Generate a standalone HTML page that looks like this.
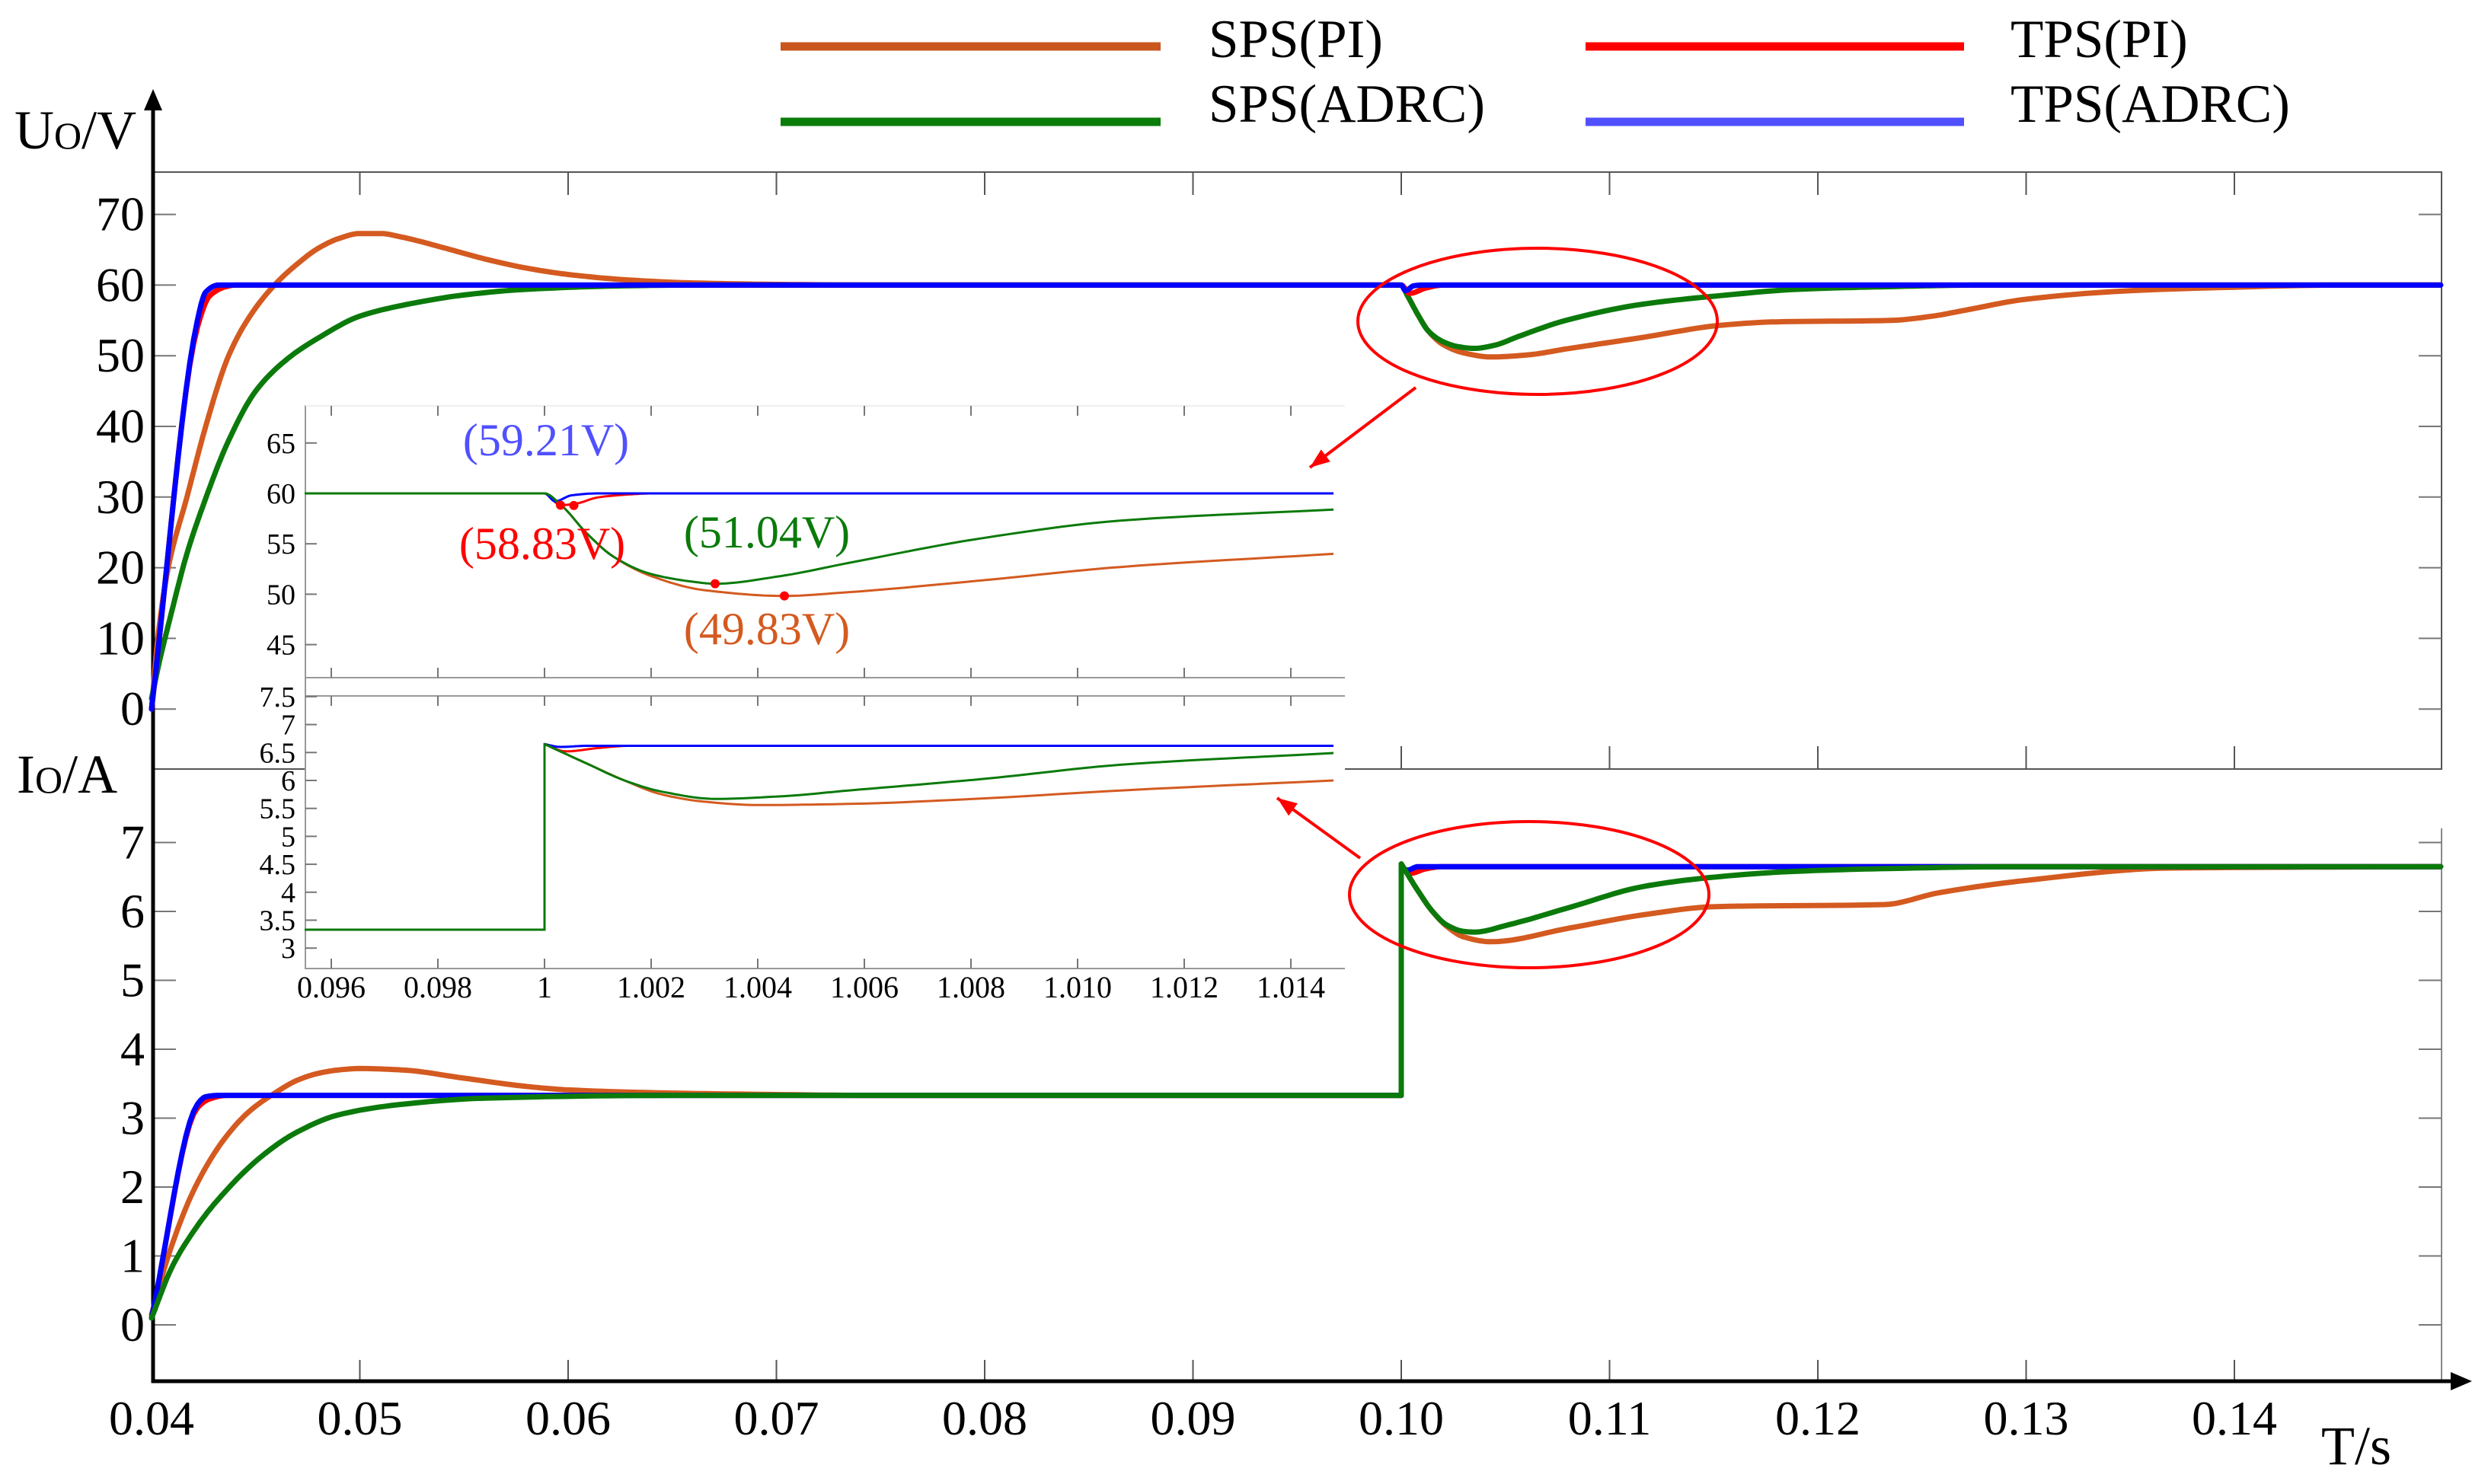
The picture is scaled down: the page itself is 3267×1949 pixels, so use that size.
<!DOCTYPE html>
<html><head><meta charset="utf-8"><style>
html,body{margin:0;padding:0;background:#fff}
svg{display:block}
text{font-family:"Liberation Serif",serif}
</style></head><body>
<svg id="chart" width="3267" height="1949" viewBox="0 0 3267 1949" xmlns="http://www.w3.org/2000/svg">
<rect width="3267" height="1949" fill="#fff"/>
<g id="frame"></g>
<g id="main"></g>
<g id="inset"></g>
<g id="anno"></g>
<g id="legend">
 <line x1="1025" y1="61" x2="1524" y2="61" stroke="#c8561e" stroke-width="11"/>
 <text x="1587" y="75" font-size="71">SPS(PI)</text>
 <line x1="1025" y1="160" x2="1524" y2="160" stroke="#0a7d0a" stroke-width="11"/>
 <text x="1587" y="160" font-size="71">SPS(ADRC)</text>
 <line x1="2082" y1="61" x2="2579" y2="61" stroke="#ff0000" stroke-width="11"/>
 <text x="2640" y="75" font-size="71">TPS(PI)</text>
 <line x1="2082" y1="160" x2="2579" y2="160" stroke="#5050ff" stroke-width="11"/>
 <text x="2640" y="160" font-size="71">TPS(ADRC)</text>
</g>
<text x="19" y="195" font-size="72">U<tspan font-size="50">O</tspan>/V</text>
<text x="22" y="1041" font-size="72">I<tspan font-size="50">O</tspan>/A</text>
<text x="3048" y="1923" font-size="72">T/s</text>
</svg>
<script>
// ---- main chart data ----
const xTicks = [0.04,0.05,0.06,0.07,0.08,0.09,0.10,0.11,0.12,0.13,0.14];
const xTickLabels = ["0.04","0.05","0.06","0.07","0.08","0.09","0.10","0.11","0.12","0.13","0.14"];
const vTicks = [0,10,20,30,40,50,60,70];
const iTicks = [0,1,2,3,4,5,6,7];
// voltage series
const tBlueV = [0.04,0.0422,0.0426,0.0432,0.1,0.1002,0.1006,0.101,0.1499];
const vBlue  = [0,55,59,60,60,59.21,59.9,60,60];
const tRedV  = [0.04,0.0422,0.0428,0.0436,0.044,0.1,0.1004,0.1012,0.102,0.1499];
const vRed   = [0,54,58.5,59.8,60,60,58.83,59.6,60,60];
const tOrgV  = [0.04,0.0403,0.0408,0.0417,0.0426,0.0437,0.0447,0.0459,0.047,0.048,0.049,0.05,0.051,0.052,0.054,0.056,0.058,0.06,0.063,0.066,0.07,0.075,0.1,0.1003,0.1008,0.1013,0.102,0.103,0.1043,0.106,0.108,0.1116,0.1153,0.118,0.1235,0.1255,0.127,0.13,0.135,0.14,0.145,0.1499];
const vOrg   = [0,10,20,30,40,50,55.5,60,63,65.2,66.6,67.3,67.3,66.8,65.3,63.7,62.4,61.5,60.7,60.3,60.1,60,60,58.5,55.8,53.5,51.6,50.4,49.83,50.1,51.0,52.6,54.3,54.8,55.0,55.6,56.4,58.0,59.2,59.7,60,60];
const tGrnV  = [0.04,0.0404,0.0409,0.0417,0.0425,0.0437,0.045,0.0465,0.048,0.05,0.0525,0.055,0.058,0.062,0.066,0.1,0.1003,0.1008,0.1013,0.102,0.1027,0.1035,0.1045,0.1056,0.1079,0.1116,0.1153,0.119,0.123,0.128,0.1499];
const vGrn   = [1.5,7,13,22,29,38,45,49.5,52.5,55.6,57.4,58.6,59.4,59.85,60,60,58.5,55.8,53.5,52.0,51.3,51.04,51.5,52.7,55.0,57.3,58.5,59.4,59.75,60,60];
// current series
const tBlueI = [0.04,0.0422,0.0426,0.0432,0.1,0.1,0.1003,0.1008,0.1499];
const iBlue  = [0.1,3.2,3.31,3.33,3.33,6.65,6.6,6.65,6.65];
const tRedI  = [0.04,0.0422,0.0428,0.0436,0.1,0.1,0.1004,0.1012,0.102,0.1499];
const iRed   = [0.1,3.15,3.28,3.33,3.33,6.65,6.55,6.62,6.65,6.65];
const tOrgI  = [0.04,0.0408,0.0421,0.0435,0.0447,0.0459,0.047,0.048,0.049,0.05,0.052,0.055,0.058,0.06,0.064,0.068,0.075,0.1,0.1,0.1008,0.1015,0.1022,0.103,0.1043,0.1081,0.1116,0.1151,0.1232,0.1258,0.13,0.137,0.1499];
const iOrg   = [0.15,1,2,2.7,3.1,3.36,3.55,3.65,3.7,3.72,3.7,3.58,3.46,3.41,3.37,3.35,3.33,3.33,6.69,6.3,6.0,5.78,5.63,5.56,5.76,5.95,6.07,6.1,6.27,6.45,6.63,6.65];
const tGrnI  = [0.04,0.041,0.042,0.043,0.0453,0.047,0.049,0.052,0.056,0.065,0.1,0.1,0.1008,0.1015,0.1022,0.103,0.1035,0.1052,0.1081,0.1116,0.1151,0.1188,0.123,0.13,0.1499];
const iGrn   = [0.1,0.85,1.35,1.75,2.45,2.8,3.05,3.2,3.29,3.33,3.33,6.69,6.3,6.0,5.8,5.71,5.70,5.81,6.06,6.36,6.5,6.58,6.62,6.65,6.65];
// ---- inset data ----
const insetTicks = [0.096,0.098,0.100,0.102,0.104,0.106,0.108,0.110,0.112,0.114];
const insetTickLabels = ["0.096","0.098","1","1.002","1.004","1.006","1.008","1.010","1.012","1.014"];
const insetVTicks = [45,50,55,60,65];
const insetITicks = [3,3.5,4,4.5,5,5.5,6,6.5,7,7.5];
const insetITickLabels = ["3","3.5","4","4.5","5","5.5","6","6.5","7","7.5"];
const itBlueV = [0.0955,0.1,0.1002,0.1005,0.101,0.1148];
const ivBlue  = [60,60,59.21,59.8,60,60];
const itRedV  = [0.0955,0.1,0.1003,0.1006,0.101,0.1016,0.102,0.1148];
const ivRed   = [60,60,58.83,59.0,59.6,59.9,60,60];
const itGrnV  = [0.0955,0.1,0.1003,0.1008,0.1013,0.102,0.1027,0.1032,0.10443,0.1057,0.10826,0.1108,0.1148];
const ivGrn   = [60,60,58.9,56,53.7,52.0,51.3,51.04,51.8,53.1,55.6,57.3,58.4];
const itOrgV  = [0.0955,0.1,0.1003,0.1008,0.1013,0.102,0.103,0.1045,0.1057,0.10826,0.1108,0.1148];
const ivOrg   = [60,60,58.9,56,53.7,51.8,50.4,49.83,50.2,51.4,52.7,54.0];
const itBlueI = [0.0955,0.1,0.1,0.1003,0.1008,0.1148];
const iiBlue  = [3.33,3.33,6.65,6.6,6.62,6.62];
const itRedI  = [0.0955,0.1,0.1,0.1004,0.101,0.1016,0.1148];
const iiRed   = [3.33,3.33,6.65,6.52,6.58,6.62,6.62];
const itGrnI  = [0.0955,0.1,0.1,0.1008,0.1015,0.1022,0.1032,0.1045,0.1057,0.10826,0.1108,0.1148];
const iiGrn   = [3.33,3.33,6.65,6.3,6.0,5.8,5.67,5.72,5.82,6.03,6.28,6.49];
const itOrgI  = [0.0955,0.1,0.1,0.1008,0.1015,0.1022,0.103,0.104,0.1057,0.10826,0.1108,0.1148];
const iiOrg   = [3.33,3.33,6.65,6.3,6.0,5.75,5.62,5.56,5.58,5.68,5.82,6.0];

const NS = "http://www.w3.org/2000/svg";
function mk(parent, tag, attrs){const e=document.createElementNS(NS,tag);for(const k in attrs)e.setAttribute(k,attrs[k]);parent.appendChild(e);return e;}
const X  = t => 199 + (t-0.04)*27350;
const YU = v => 931.2 - v*9.28;
const YI = i => 1740 - i*90.5;
const XI = t => 715 + (t-0.1)*70000;
const YIV = v => 648 - (v-60)*13.24;
const YII = i => 1025 - (i-6)*73.4;
const C = {org:"#d45a20", grn:"#0b7a0b", red:"#ff0000", blue:"#0000ff"};

const frame = document.getElementById('frame');
let e;
e = mk(frame,'path',{d:'M201 226 H3206 V1010 H201',fill:'none',stroke:'#555','stroke-width':2});
 
e = mk(frame,'path',{d:'M3206 1088 V1814',fill:'none',stroke:'#888','stroke-width':2});
 
xTicks.forEach((t,k)=>{
  const x=X(t);
  if(k>0){
    e=mk(frame,'line',{x1:x,y1:226,x2:x,y2:256,stroke:'#555','stroke-width':2});
     
    e=mk(frame,'line',{x1:x,y1:980,x2:x,y2:1010,stroke:'#555','stroke-width':2});
     
    e=mk(frame,'line',{x1:x,y1:1786,x2:x,y2:1814,stroke:'#555','stroke-width':2});
     
  }
  e=mk(frame,'text',{x:x,y:1884,'font-size':64,'text-anchor':'middle'});
  e.textContent=xTickLabels[k];
   
});
vTicks.forEach(v=>{
  const y=YU(v);
  e=mk(frame,'line',{x1:201,y1:y,x2:231,y2:y,stroke:'#777','stroke-width':2});
   
  e=mk(frame,'line',{x1:3176,y1:y,x2:3206,y2:y,stroke:'#777','stroke-width':2});
   
  e=mk(frame,'text',{x:190,y:y+21,'font-size':64,'text-anchor':'end'});
  e.textContent=v;
   
});
iTicks.forEach(v=>{
  const y=YI(v);
  e=mk(frame,'line',{x1:201,y1:y,x2:231,y2:y,stroke:'#777','stroke-width':2});
   
  e=mk(frame,'line',{x1:3176,y1:y,x2:3206,y2:y,stroke:'#777','stroke-width':2});
   
  e=mk(frame,'text',{x:190,y:y+21,'font-size':64,'text-anchor':'end'});
  e.textContent=v;
   
});
e=mk(frame,'line',{x1:201,y1:135,x2:201,y2:1816,stroke:'#000','stroke-width':5});
 
e=mk(frame,'polygon',{points:'201,117 189,145 213,145',fill:'#000'});
 
e=mk(frame,'line',{x1:199,y1:1814,x2:3225,y2:1814,stroke:'#000','stroke-width':5});
 
e=mk(frame,'polygon',{points:'3246,1814 3218,1802 3218,1826',fill:'#000'});
 

// monotone cubic interpolation per segment group (splits at vertical steps)
function smoothPts(ts,vs){
  const groups=[];let cur=[[ts[0],vs[0]]];
  for(let k=1;k<ts.length;k++){
    if(ts[k]===ts[k-1]){groups.push(cur);cur=[[ts[k],vs[k]]];}
    else cur.push([ts[k],vs[k]]);
  }
  groups.push(cur);
  const out=[];
  groups.forEach(g=>{
    const n=g.length;
    if(n<3){g.forEach(p=>out.push(p));return;}
    const d=[],m=new Array(n);
    for(let k=0;k<n-1;k++)d.push((g[k+1][1]-g[k][1])/(g[k+1][0]-g[k][0]));
    m[0]=d[0];m[n-1]=d[n-2];
    for(let k=1;k<n-1;k++){
      if(d[k-1]*d[k]<=0)m[k]=0;
      else{const h0=g[k][0]-g[k-1][0],h1=g[k+1][0]-g[k][0];const w1=2*h1+h0,w2=h1+2*h0;m[k]=(w1+w2)/(w1/d[k-1]+w2/d[k]);}
    }
    for(let k=0;k<n-1;k++){
      const h=g[k+1][0]-g[k][0];
      for(let s=0;s<12;s++){
        const u=s/12,h00=2*u*u*u-3*u*u+1,h10=u*u*u-2*u*u+u,h01=-2*u*u*u+3*u*u,h11=u*u*u-u*u;
        out.push([g[k][0]+u*h,h00*g[k][1]+h10*h*m[k]+h01*g[k+1][1]+h11*h*m[k+1]]);
      }
    }
    out.push(g[n-1]);
  });
  return out;
}
function pathD(ts,vs,fx,fy){return smoothPts(ts,vs).map((p,k)=>(k?'L':'M')+fx(p[0]).toFixed(1)+' '+fy(p[1]).toFixed(1)).join(' ');}
const main=document.getElementById('main');
const mainSeries=[
 [tOrgV,vOrg,YU,C.org,'voltage-sps-pi'],[tGrnV,vGrn,YU,C.grn,'voltage-sps-adrc'],
 [tRedV,vRed,YU,C.red,'voltage-tps-pi'],[tBlueV,vBlue,YU,C.blue,'voltage-tps-adrc'],
 [tOrgI,iOrg,YI,C.org,'current-sps-pi'],[tRedI,iRed,YI,C.red,'current-tps-pi'],
 [tBlueI,iBlue,YI,C.blue,'current-tps-adrc'],[tGrnI,iGrn,YI,C.grn,'current-sps-adrc']];
mainSeries.forEach(s=>{
  e=mk(main,'path',{d:pathD(s[0],s[1],X,s[2]),fill:'none',stroke:s[3],'stroke-width':7,'stroke-linejoin':'round','stroke-linecap':'round'});
   
});

// inset
const ins=document.getElementById('inset');
e=mk(ins,'rect',{x:401,y:530,width:1365,height:745,fill:'#fff'});
 
e=mk(ins,'path',{d:'M1766 533 H401 V1272 H1766 M401 890 H1766 M401 914 H1766',fill:'none',stroke:'#999','stroke-width':2});
 
e=mk(ins,'line',{x1:401,y1:533,x2:1766,y2:533,stroke:'#eee','stroke-width':2});
 
insetTicks.forEach((t,k)=>{
  const x=XI(t);
  [[533,546],[877,890],[914,927],[1259,1272]].forEach(p=>{
    e=mk(ins,'line',{x1:x,y1:p[0],x2:x,y2:p[1],stroke:'#777','stroke-width':2});
     
  });
  e=mk(ins,'text',{x:x,y:1310,'font-size':40,'text-anchor':'middle'});
  e.textContent=insetTickLabels[k];
   
});
insetVTicks.forEach(v=>{
  const y=YIV(v);
  e=mk(ins,'line',{x1:401,y1:y,x2:416,y2:y,stroke:'#777','stroke-width':2});
   
  e=mk(ins,'text',{x:388,y:y+13,'font-size':38,'text-anchor':'end'});
  e.textContent=v;
   
});
insetITicks.forEach((v,k)=>{
  const y=YII(v);
  e=mk(ins,'line',{x1:401,y1:y,x2:416,y2:y,stroke:'#777','stroke-width':2});
   
  e=mk(ins,'text',{x:388,y:y+13,'font-size':38,'text-anchor':'end'});
  e.textContent=insetITickLabels[k];
   
});
const insetSeries=[
 [itOrgV,ivOrg,YIV,C.org,'inset-voltage-sps-pi'],[itRedV,ivRed,YIV,C.red,'inset-voltage-tps-pi'],
 [itBlueV,ivBlue,YIV,C.blue,'inset-voltage-tps-adrc'],[itGrnV,ivGrn,YIV,C.grn,'inset-voltage-sps-adrc'],
 [itOrgI,iiOrg,YII,C.org,'inset-current-sps-pi'],[itRedI,iiRed,YII,C.red,'inset-current-tps-pi'],
 [itBlueI,iiBlue,YII,C.blue,'inset-current-tps-adrc'],[itGrnI,iiGrn,YII,C.grn,'inset-current-sps-adrc']];
insetSeries.forEach(s=>{
  e=mk(ins,'path',{d:pathD(s[0],s[1],XI,s[2]),fill:'none',stroke:s[3],'stroke-width':3,'stroke-linejoin':'round'});
   
});
[[0.1003,58.83],[0.10055,58.8],[itGrnV[7],ivGrn[7]],[itOrgV[7],ivOrg[7]]].forEach(p=>{
  e=mk(ins,'circle',{cx:XI(p[0]),cy:YIV(p[1]),r:6,fill:'#ff0000'});
   
});

// annotations
const an=document.getElementById('anno');
[['(59.21V)',717,598,'#5050ff','label-59-21v'],['(58.83V)',712,734,'#ff0000','label-58-83v'],
 ['(51.04V)',1007,719,'#0b7a0b','label-51-04v'],['(49.83V)',1007,846,'#d45a20','label-49-83v']].forEach(a=>{
  e=mk(an,'text',{x:a[1],y:a[2],'font-size':60,'text-anchor':'middle',fill:a[3]});
  e.textContent=a[0];
   
});
e=mk(an,'ellipse',{cx:2019,cy:422,rx:236,ry:96,fill:'none',stroke:'#ff0000','stroke-width':4});
 
e=mk(an,'ellipse',{cx:2008,cy:1175,rx:236,ry:96,fill:'none',stroke:'#ff0000','stroke-width':4});
 
function arrow(x1,y1,x2,y2,name){
  e=mk(an,'line',{x1:x1,y1:y1,x2:x2,y2:y2,stroke:'#ff0000','stroke-width':4});
   
  const a=Math.atan2(y2-y1,x2-x1),L=26,W=10;
  const bx=x2-L*Math.cos(a),by=y2-L*Math.sin(a);
  e=mk(an,'polygon',{points:`${x2},${y2} ${bx+W*Math.sin(a)},${by-W*Math.cos(a)} ${bx-W*Math.sin(a)},${by+W*Math.cos(a)}`,fill:'#ff0000'});
   
}
arrow(1859,509,1720,614,'zoom-arrow-voltage');
arrow(1786,1127,1677,1048,'zoom-arrow-current');
</script>
</body></html>
